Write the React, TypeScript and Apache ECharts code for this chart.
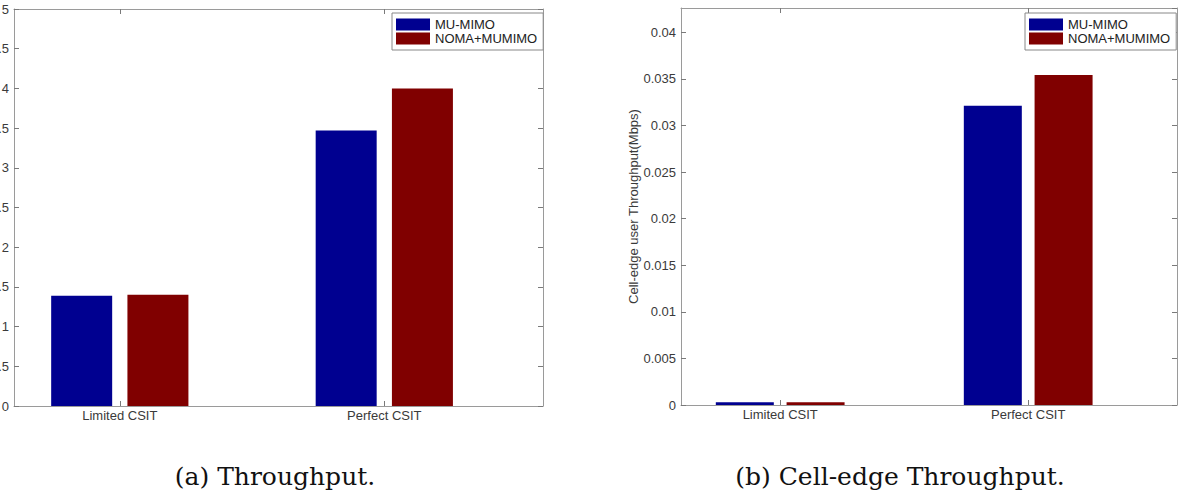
import React, { useEffect, useRef } from "react";
import * as echarts from "echarts";

const categories = ["Limited CSIT", "Perfect CSIT"];
const seriesNames = ["MU-MIMO", "NOMA+MUMIMO"];
const throughputMU = [1.39, 3.47];
const throughputNOMA = [1.4, 4.0];
const edgeMU = [0.0003, 0.0321];
const edgeNOMA = [0.0003, 0.0354];
const captions = ["(a) Throughput.", "(b) Cell-edge Throughput."];
const edgeAxisName = "Cell-edge user Throughput(Mbps)";

const COLORS = ["#000090", "#800000"];
const FONT = "'Liberation Sans', Arial, sans-serif";
const FRAME = "#9a9a9a";
const TICK = "#7a7a7a";
const TXT = "#3a3a3a";

const toPoints = (vals: number[]) => vals.map((v, i) => [i + 1, v]);

function xAxes(gridIndex: number) {
  const base = {
    type: "value",
    gridIndex,
    min: 0.6,
    max: 2.6,
    splitLine: { show: false },
    axisLine: { show: true, onZero: false, lineStyle: { color: FRAME, width: 1 } },
    axisTick: { show: true, inside: true, length: 5, customValues: [1, 2], lineStyle: { color: TICK } },
  };
  return [
    {
      ...base,
      position: "bottom",
      axisLabel: {
        show: true,
        customValues: [1, 2],
        margin: 3,
        color: TXT,
        fontFamily: FONT,
        fontSize: 13,
        formatter: (v: number) => categories[Math.round(v) - 1] ?? "",
      },
    },
    { ...base, position: "top", axisLabel: { show: false } },
  ];
}

function yAxes(gridIndex: number, max: number, interval: number, withName: boolean) {
  const base = {
    type: "value",
    gridIndex,
    min: 0,
    max,
    interval,
    splitLine: { show: false },
    axisLine: { show: true, onZero: false, lineStyle: { color: FRAME, width: 1 } },
    axisTick: { show: true, inside: true, length: 5, lineStyle: { color: TICK } },
  };
  return [
    {
      ...base,
      position: "left",
      name: withName ? edgeAxisName : "",
      nameLocation: "middle",
      nameGap: 41,
      nameTextStyle: { color: TXT, fontFamily: FONT, fontSize: 13 },
      axisLabel: {
        show: true,
        margin: 5,
        color: TXT,
        fontFamily: FONT,
        fontSize: 13,
        showMaxLabel: max % interval === 0,
        formatter: (v: number) => String(+v.toFixed(4)),
      },
    },
    { ...base, position: "right", axisLabel: { show: false } },
  ];
}

function legend(left: number) {
  return {
    left,
    top: 13,
    orient: "vertical",
    data: seriesNames,
    icon: "rect",
    itemWidth: 34,
    itemHeight: 12,
    itemGap: 1,
    padding: [5, 6, 5, 4],
    borderColor: "#888",
    borderWidth: 1,
    borderRadius: 0,
    backgroundColor: "#fff",
    textStyle: { color: "#222", fontFamily: FONT, fontSize: 13, lineHeight: 13 },
  };
}

export default function App() {
  const ref = useRef<HTMLDivElement>(null);
  useEffect(() => {
    if (!ref.current) return;
    const chart = echarts.init(ref.current, undefined, { renderer: "svg" });
    const bar = (name: string, data: number[], idx: number, axis: number, width: number, gap: string) => ({
      type: "bar",
      name,
      xAxisIndex: axis * 2,
      yAxisIndex: axis * 2,
      data: toPoints(data),
      barWidth: width,
      barGap: gap,
      itemStyle: { color: COLORS[idx] },
      emphasis: { disabled: true },
    });
    chart.setOption({
      animation: false,
      backgroundColor: "#fff",
      textStyle: { fontFamily: FONT },
      grid: [
        { left: 14, top: 9, width: 529, height: 397, containLabel: false, outerBoundsMode: "none" },
        { left: 681, top: 8, width: 496, height: 397, containLabel: false, outerBoundsMode: "none" },
      ],
      xAxis: [...xAxes(0), ...xAxes(1)],
      yAxis: [...yAxes(0, 5, 0.5, false), ...yAxes(1, 0.0426, 0.005, true)],
      legend: [legend(392), legend(1025)],
      series: [
        bar(seriesNames[0], throughputMU, 0, 0, 61, "25%"),
        bar(seriesNames[1], throughputNOMA, 1, 0, 61, "25%"),
        bar(seriesNames[0], edgeMU, 0, 1, 58, "22%"),
        bar(seriesNames[1], edgeNOMA, 1, 1, 58, "22%"),
      ],
      graphic: [
        {
          type: "text",
          x: 275,
          y: 476,
          style: {
            text: captions[0],
            fill: "#111",
            font: "25px 'DejaVu Serif', serif",
            align: "center",
            verticalAlign: "middle",
          },
        },
        {
          type: "text",
          x: 900,
          y: 476,
          style: {
            text: captions[1],
            fill: "#111",
            font: "25px 'DejaVu Serif', serif",
            align: "center",
            verticalAlign: "middle",
          },
        },
      ],
    });
    return () => chart.dispose();
  }, []);
  return (
    <div
      ref={ref}
      style={{ position: "fixed", left: 0, top: 0, width: 1183, height: 495, background: "#fff" }}
    />
  );
}
